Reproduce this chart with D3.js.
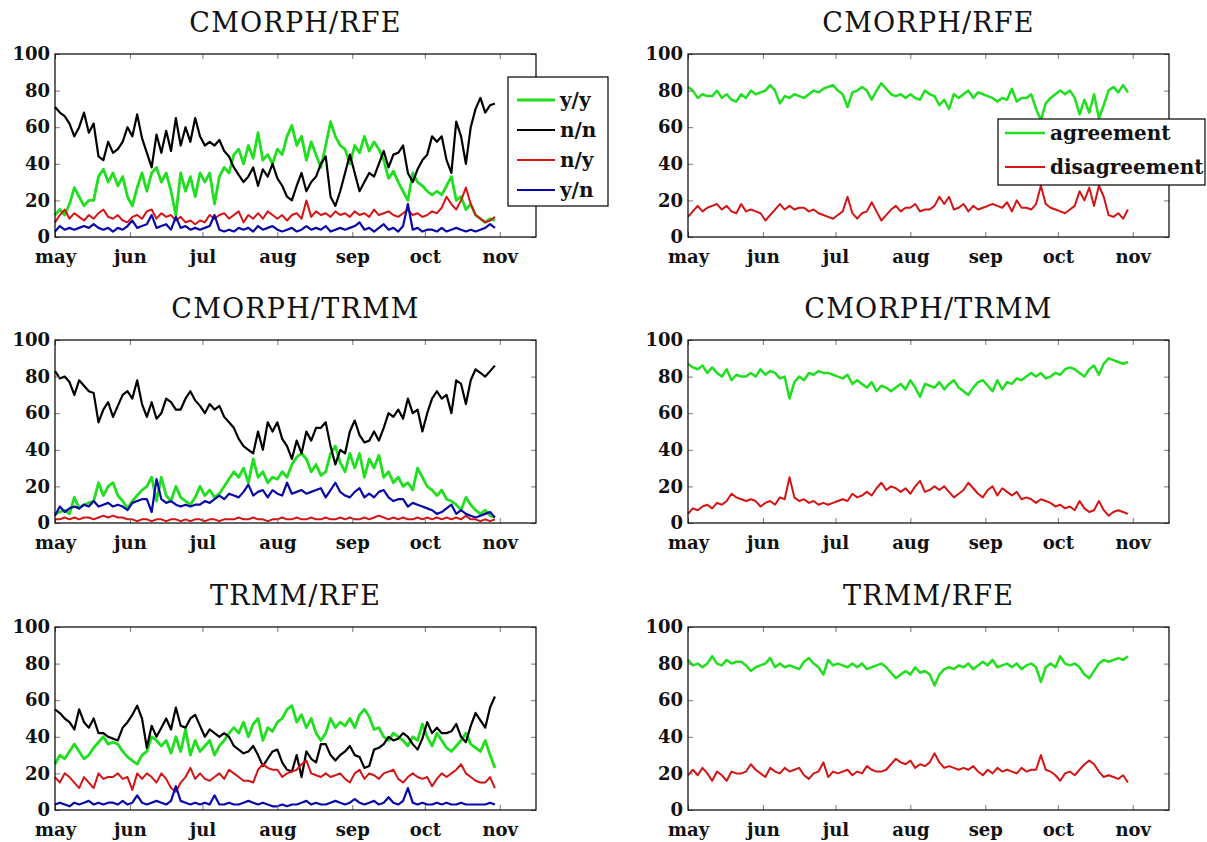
<!DOCTYPE html>
<html><head><meta charset="utf-8">
<script src="https://cdn.jsdelivr.net/npm/d3@7"></script>
<style>body{margin:0;background:#fff} svg{display:block} text{font-family:"DejaVu Serif",serif}</style>
</head><body><svg id="c" width="1207" height="842"></svg>
<script>
// sampling grid: days after May 1 (every 2 days)
const days = d3.range(0, 184, 2);
const monthDays = [0, 31, 61, 92, 123, 153, 184];
const monthLabels = ["may","jun","jul","aug","sep","oct","nov"];
const yTicks = [0, 20, 40, 60, 80, 100];

// CMORPH/RFE contingency (%)
const crfYY = [12,15,12,18,27,22,17,20,20,33, 37,30,35,28,33,22,17,27,35,25, 35,38,30,35,25,12,35,25,33,22, 35,30,35,18,33,38,35,45,48,40, 50,43,57,42,45,40,48,45,55,61, 50,55,42,52,45,38,50,63,55,50, 48,40,50,46,55,47,52,48,42,32, 36,30,25,20,35,30,28,25,23,25, 23,28,33,20,22,15,18,12,10,8, 10,9];
const crfNN = [71,68,66,62,55,60,68,57,62,44, 42,52,46,48,52,60,55,67,54,46, 38,56,46,58,47,65,50,60,52,65, 55,50,52,50,53,47,44,38,34,30, 33,38,28,37,33,40,32,28,22,20, 28,35,25,30,33,40,44,22,17,25, 35,45,35,25,30,35,33,40,47,38, 45,46,50,35,30,37,42,45,55,52, 55,42,35,63,55,40,60,70,76,68, 72,73];
const crfNY = [8,12,15,10,13,11,9,12,10,13, 15,11,10,12,9,8,11,12,10,14, 15,10,13,11,12,9,11,8,9,7, 9,8,12,10,12,13,10,12,14,8, 12,10,13,10,14,12,10,12,9,12, 13,10,20,11,14,12,13,11,14,12, 13,11,14,12,13,11,15,12,13,14, 12,11,13,15,12,13,11,12,14,13, 16,22,18,15,20,27,18,12,10,8, 9,11];
const crfYN = [3,6,4,5,4,5,6,5,7,5, 4,5,3,5,4,6,9,5,6,7, 12,5,6,7,4,11,5,6,4,5, 4,5,6,12,4,3,4,3,5,4, 5,3,6,4,5,6,4,3,4,5, 3,4,6,4,5,4,6,3,4,5, 4,5,6,8,4,5,3,5,7,4, 5,3,6,18,4,5,3,4,4,3, 5,3,4,5,4,3,4,3,4,5, 7,5];

// CMORPH/TRMM contingency (%)
const ctYY = [5,6,7,5,14,8,10,11,12,22, 15,20,22,15,12,8,12,15,18,20, 25,12,25,15,12,20,14,12,10,14, 20,15,18,14,16,20,24,28,25,30, 22,35,25,28,22,25,24,28,25,32, 36,38,35,28,32,26,28,38,42,33, 28,38,30,38,25,35,30,37,25,28, 22,25,20,22,18,30,25,20,18,15, 18,13,12,10,7,14,10,7,5,7, 4,3];
const ctNN = [83,79,80,77,70,78,75,72,71,55, 62,66,58,64,70,72,68,78,65,58, 66,57,60,68,66,62,62,68,72,67, 64,60,65,62,64,58,55,52,46,42, 40,38,50,40,55,50,55,46,42,35, 45,38,50,45,52,52,55,42,32,40, 38,50,56,48,44,45,50,45,52,60, 58,62,57,68,60,62,50,60,68,72, 68,70,60,78,76,65,78,84,82,80, 83,86];
const ctNY = [2,2,3,2,3,2,3,3,2,3, 4,3,4,3,3,2,2,1,2,2, 1,2,2,1,2,2,1,2,1,2, 2,1,2,2,1,2,2,2,3,2, 2,3,2,2,1,2,2,3,2,2, 3,2,2,3,2,2,3,2,2,3, 2,3,2,2,3,2,3,4,3,2, 3,2,3,2,2,3,2,3,2,3, 2,3,2,3,2,4,2,2,1,2, 1,2];
const ctYN = [4,9,6,8,9,8,10,9,12,9, 10,11,9,10,9,7,11,12,13,13, 6,24,13,11,12,10,9,10,9,10, 10,12,11,13,15,13,16,15,14,17, 21,15,17,18,14,18,16,15,22,16, 17,18,16,17,18,19,14,18,22,17, 15,14,17,19,14,16,14,17,18,14, 12,13,13,9,11,10,9,8,7,5, 6,8,10,5,7,5,4,3,4,5, 6,3];

// TRMM/RFE contingency (%)
const trYY = [25,30,28,32,36,32,28,30,34,37, 40,36,37,36,32,29,27,25,30,32, 40,38,35,38,31,40,32,44,30,38, 32,35,38,30,35,38,42,45,42,48, 40,47,50,38,45,43,48,50,55,57, 48,52,45,50,42,38,42,50,45,48, 46,50,45,52,55,51,44,45,40,38, 42,40,38,35,40,38,47,40,35,42, 38,34,32,35,38,42,36,34,32,38, 30,23];
const trNN = [55,53,50,48,44,55,48,45,50,42, 42,40,39,38,45,48,52,57,50,34, 46,40,45,50,44,56,46,45,50,52, 46,40,44,42,40,42,40,35,33,31, 32,35,30,24,28,32,33,26,22,21, 30,18,32,28,26,36,36,30,27,30, 32,35,30,29,23,24,33,34,36,40, 38,39,42,40,36,33,39,48,42,45, 42,42,43,47,40,37,46,53,49,45, 56,62];
const trNY = [18,15,20,18,15,12,18,15,12,20, 17,18,18,20,17,18,11,20,17,20, 18,15,20,17,12,10,15,18,23,17, 20,17,16,18,20,17,22,20,18,16, 16,15,22,25,23,22,22,18,20,21, 22,25,27,20,19,18,20,18,19,20, 17,15,20,22,17,20,19,17,20,21, 22,17,15,18,20,18,17,18,13,17, 20,18,20,22,25,20,18,16,15,15, 18,12];
const trYN = [3,4,3,2,4,3,4,5,3,4, 3,4,4,3,5,3,4,8,4,3, 4,5,4,3,5,13,5,4,3,4, 3,4,3,8,3,3,4,3,3,4, 5,4,3,4,3,2,2,3,2,3, 3,4,5,3,4,3,3,4,5,4, 3,4,6,4,3,4,5,3,4,7, 4,3,5,12,4,3,4,3,3,4, 3,4,3,3,4,3,3,3,3,3, 4,3];

// agreement / disagreement (%)
const crfAgree = [82,80,76,78,77,77,80,76,78,75, 74,78,76,80,78,79,80,83,80,73, 77,76,78,77,76,78,80,79,81,82, 83,80,78,71,79,80,82,80,75,80, 84,81,78,77,78,76,78,76,75,80, 78,77,72,75,70,78,76,78,80,76, 79,78,77,76,74,76,75,81,74,76, 76,78,70,64,73,76,78,80,78,80, 76,67,75,68,78,65,72,80,82,79, 83,79];
const crfDis = [11,14,17,14,16,17,18,15,17,14, 13,18,14,15,14,13,9,12,15,18, 15,17,15,16,16,14,15,13,12,11, 10,12,14,22,13,10,13,14,19,14, 9,12,15,17,14,16,16,18,14,15, 15,17,22,18,22,15,16,18,14,17, 15,16,17,18,17,16,19,14,20,16, 16,15,18,28,18,16,15,14,13,15, 17,25,20,27,17,28,22,12,11,13, 10,15];
const ctAgree = [87,85,84,86,82,85,82,80,84,78, 81,80,80,82,80,84,81,83,82,79, 80,68,77,80,78,82,81,83,82,82, 81,80,79,81,76,78,76,74,77,72, 75,74,72,74,76,73,78,74,69,76, 75,74,77,73,76,78,74,72,70,74, 77,78,75,72,78,73,77,76,79,78, 80,82,80,82,79,80,82,81,84,85, 84,82,80,84,86,81,87,90,89,88, 87,88];
const ctDis = [5,8,7,9,10,8,11,10,12,16, 14,13,12,13,12,9,11,12,10,14, 13,25,14,12,13,11,12,10,11,10, 11,12,13,12,16,14,15,17,15,19, 22,18,20,19,17,19,16,20,23,17, 18,20,18,20,17,14,16,18,22,19, 16,14,18,20,15,19,17,15,17,13, 14,13,11,13,12,11,9,10,8,9, 7,12,8,6,7,12,7,4,6,7, 6,5];
const trAgree = [82,79,80,78,80,84,80,79,82,80, 81,81,79,76,78,79,80,83,78,80, 78,79,78,77,81,83,80,78,74,82, 79,80,79,78,80,78,80,77,78,79, 80,78,75,72,74,76,74,78,75,76, 74,68,74,77,78,77,79,78,80,77, 79,81,79,82,78,79,80,78,80,77, 79,80,78,70,78,80,78,84,80,79, 80,78,74,72,76,80,82,81,82,83, 82,84];
const trDis = [19,22,19,23,20,16,21,19,16,21, 20,20,21,25,22,20,18,23,21,20, 23,21,22,23,19,17,20,21,26,18, 21,20,21,22,19,21,20,24,22,21, 21,22,25,28,26,25,27,23,25,24, 26,31,26,23,24,23,22,23,22,24, 21,19,22,20,23,21,22,21,20,23, 21,22,22,30,22,21,19,16,20,21, 19,22,25,27,25,21,18,19,18,17, 19,15];

const GREEN = "#1fdf1f", BLACK = "#000000", RED = "#d41414", BLUE = "#0808aa";

const panels = [
  {x0:55, y0:54, title:"CMORPH/RFE", legend:"four",
   series:[{name:"y/y",v:crfYY,c:GREEN,w:2.8},{name:"n/n",v:crfNN,c:BLACK,w:2.2},{name:"n/y",v:crfNY,c:RED,w:2},{name:"y/n",v:crfYN,c:BLUE,w:2.2}]},
  {x0:688, y0:54, title:"CMORPH/RFE", legend:"two",
   series:[{name:"agreement",v:crfAgree,c:GREEN,w:2.5},{name:"disagreement",v:crfDis,c:RED,w:2}]},
  {x0:55, y0:340, title:"CMORPH/TRMM",
   series:[{name:"y/y",v:ctYY,c:GREEN,w:2.8},{name:"n/n",v:ctNN,c:BLACK,w:2.2},{name:"n/y",v:ctNY,c:RED,w:2},{name:"y/n",v:ctYN,c:BLUE,w:2.2}]},
  {x0:688, y0:340, title:"CMORPH/TRMM",
   series:[{name:"agreement",v:ctAgree,c:GREEN,w:2.5},{name:"disagreement",v:ctDis,c:RED,w:2}]},
  {x0:55, y0:627, title:"TRMM/RFE",
   series:[{name:"y/y",v:trYY,c:GREEN,w:2.8},{name:"n/n",v:trNN,c:BLACK,w:2.2},{name:"n/y",v:trNY,c:RED,w:2},{name:"y/n",v:trYN,c:BLUE,w:2.2}]},
  {x0:688, y0:627, title:"TRMM/RFE",
   series:[{name:"agreement",v:trAgree,c:GREEN,w:2.5},{name:"disagreement",v:trDis,c:RED,w:2}]}
];

const svg = d3.select("#c");
const PW = 481, PH = 183;

function styleAxis(a, size){
  a.select(".domain").remove();
  a.attr("font-family", "DejaVu Serif").attr("font-size", size).attr("font-weight", "bold");
  a.selectAll(".tick line").attr("stroke", "#777");
  a.selectAll(".tick text").attr("fill", "#111");
}

panels.forEach(p => {
  const g = svg.append("g");
  const x = d3.scaleLinear().domain([0, 199]).range([p.x0, p.x0 + PW]);
  const y = d3.scaleLinear().domain([0, 100]).range([p.y0 + PH, p.y0]);
  const line = d3.line().x((d, i) => x(days[i])).y(d => y(d));

  p.series.forEach(s => {
    g.append("path").attr("d", line(s.v)).attr("fill", "none")
      .attr("stroke", s.c).attr("stroke-width", s.w).attr("stroke-linejoin", "round");
  });

  g.append("g").attr("transform", `translate(0,${p.y0 + PH})`)
    .call(d3.axisBottom(x).tickValues(monthDays).tickFormat((d, i) => monthLabels[i]).tickSize(-5).tickPadding(13))
    .call(a => styleAxis(a, 18));
  g.append("g").attr("transform", `translate(${p.x0},0)`)
    .call(d3.axisLeft(y).tickValues(yTicks).tickSize(-5).tickPadding(5))
    .call(a => styleAxis(a, 18));
  g.append("g").attr("transform", `translate(0,${p.y0})`)
    .call(d3.axisTop(x).tickValues(monthDays).tickSize(-5).tickFormat(""))
    .call(a => styleAxis(a, 18));
  g.append("g").attr("transform", `translate(${p.x0 + PW},0)`)
    .call(d3.axisRight(y).tickValues(yTicks).tickSize(-5).tickFormat(""))
    .call(a => styleAxis(a, 18));

  g.append("rect").attr("x", p.x0).attr("y", p.y0).attr("width", PW).attr("height", PH)
    .attr("fill", "none").attr("stroke", "#000").attr("stroke-width", 1.2);

  g.append("text").attr("x", p.x0 + PW / 2).attr("y", p.y0 - 22)
    .attr("text-anchor", "middle").attr("font-size", 27).attr("letter-spacing", "1.2px")
    .attr("fill", "#111").text(p.title);

  if (p.legend === "four") {
    const lg = g.append("g");
    lg.append("rect").attr("x", p.x0 + 453).attr("y", p.y0 + 23).attr("width", 100).attr("height", 129)
      .attr("fill", "#fff").attr("stroke", "#000").attr("stroke-width", 1.2);
    p.series.forEach((s, i) => {
      const yy = p.y0 + 46 + 30 * i;
      lg.append("line").attr("x1", p.x0 + 462).attr("x2", p.x0 + 500).attr("y1", yy).attr("y2", yy)
        .attr("stroke", s.c).attr("stroke-width", s.w);
      lg.append("text").attr("x", p.x0 + 505).attr("y", yy).attr("dy", "0.35em")
        .attr("font-size", 20).attr("font-weight", "bold").attr("fill", "#111").text(s.name);
    });
  } else if (p.legend === "two") {
    const lg = g.append("g");
    lg.append("rect").attr("x", p.x0 + 310).attr("y", p.y0 + 65).attr("width", 207).attr("height", 66)
      .attr("fill", "#fff").attr("stroke", "#000").attr("stroke-width", 1.2);
    p.series.forEach((s, i) => {
      const yy = p.y0 + 79 + 34 * i;
      lg.append("line").attr("x1", p.x0 + 317).attr("x2", p.x0 + 357).attr("y1", yy).attr("y2", yy)
        .attr("stroke", s.c).attr("stroke-width", s.w);
      lg.append("text").attr("x", p.x0 + 362).attr("y", yy).attr("dy", "0.35em")
        .attr("font-size", 20).attr("font-weight", "bold").attr("fill", "#111").text(s.name);
    });
  }
});
</script>
</body></html>
